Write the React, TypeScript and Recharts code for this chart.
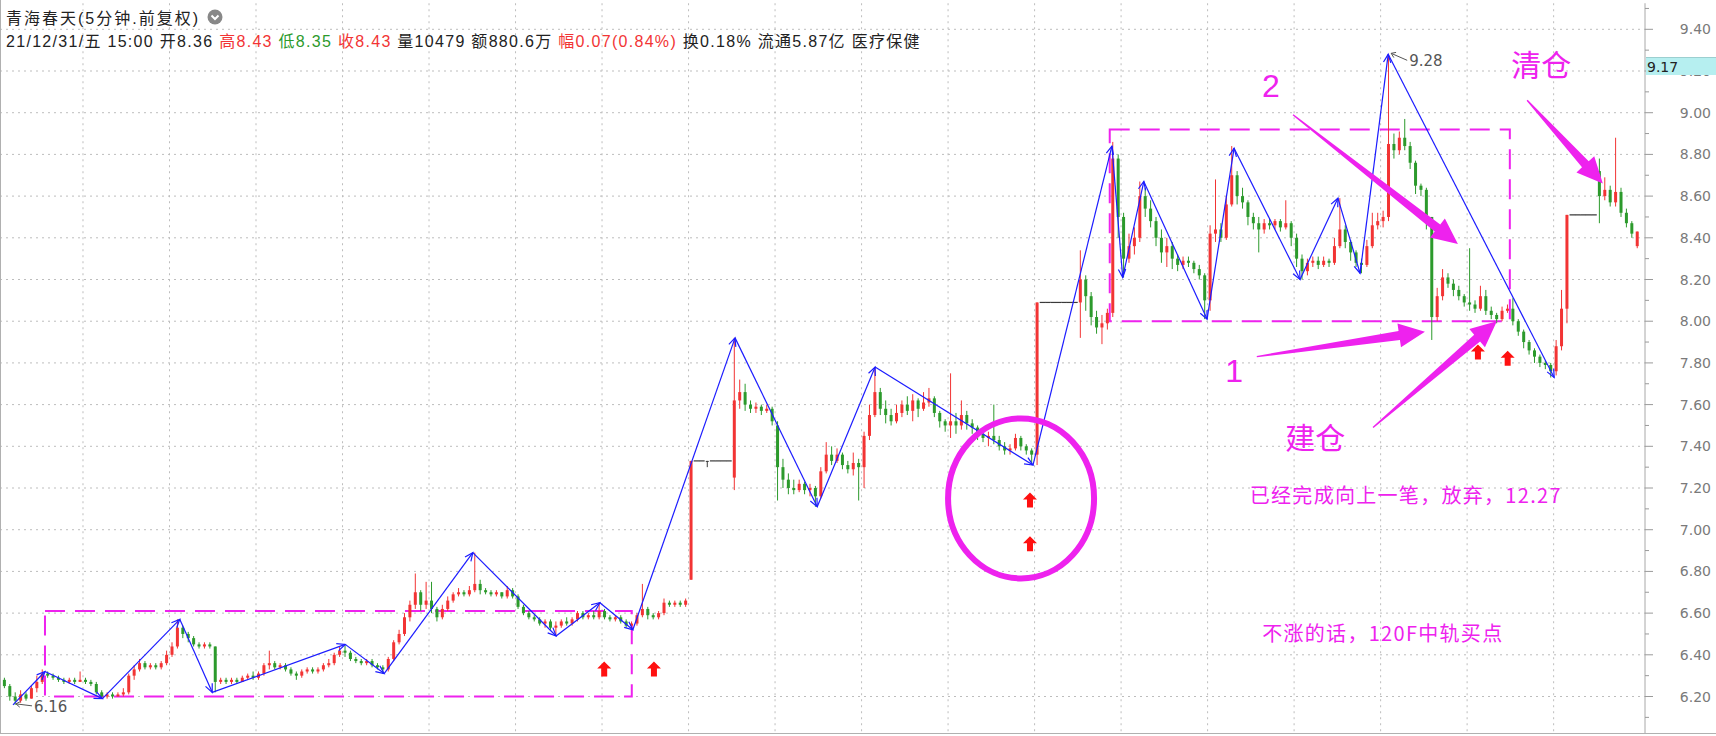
import React from "react";
import {
  Bar,
  CartesianGrid,
  ComposedChart,
  ReferenceArea,
  ReferenceDot,
  ReferenceLine,
  XAxis,
  YAxis,
} from "recharts";

// one candle = [open, close, high, low], 16 bars per session
type Candle = [number, number, number, number];

const dec07: Candle[] = [
  [6.27, 6.28, 6.3, 6.26], [6.28, 6.25, 6.29, 6.24], [6.25, 6.2, 6.26, 6.18], [6.2, 6.18, 6.22, 6.16],
  [6.18, 6.21, 6.23, 6.17], [6.21, 6.19, 6.22, 6.18], [6.19, 6.24, 6.25, 6.19], [6.24, 6.27, 6.3, 6.22],
  [6.27, 6.31, 6.33, 6.26], [6.31, 6.3, 6.32, 6.29], [6.3, 6.29, 6.31, 6.28], [6.29, 6.28, 6.3, 6.27],
  [6.28, 6.27, 6.29, 6.26], [6.27, 6.28, 6.29, 6.26], [6.28, 6.27, 6.29, 6.26], [6.27, 6.28, 6.32, 6.27],
];
const dec08: Candle[] = [
  [6.28, 6.27, 6.29, 6.26], [6.27, 6.26, 6.28, 6.25], [6.26, 6.22, 6.27, 6.21], [6.22, 6.2, 6.23, 6.19],
  [6.2, 6.21, 6.22, 6.19], [6.21, 6.2, 6.22, 6.19], [6.2, 6.21, 6.22, 6.2], [6.21, 6.22, 6.24, 6.2],
  [6.22, 6.3, 6.31, 6.21], [6.3, 6.33, 6.35, 6.28], [6.33, 6.36, 6.38, 6.32], [6.36, 6.34, 6.37, 6.33],
  [6.34, 6.35, 6.36, 6.33], [6.35, 6.34, 6.36, 6.33], [6.34, 6.36, 6.37, 6.33], [6.36, 6.4, 6.42, 6.35],
];
const dec09: Candle[] = [
  [6.4, 6.44, 6.46, 6.39], [6.44, 6.53, 6.57, 6.43], [6.53, 6.5, 6.54, 6.48], [6.5, 6.48, 6.51, 6.46],
  [6.48, 6.45, 6.49, 6.44], [6.45, 6.44, 6.46, 6.43], [6.44, 6.45, 6.46, 6.43], [6.45, 6.44, 6.46, 6.43],
  [6.44, 6.27, 6.44, 6.22], [6.27, 6.28, 6.29, 6.26], [6.28, 6.27, 6.29, 6.26], [6.27, 6.28, 6.29, 6.26],
  [6.28, 6.27, 6.29, 6.26], [6.27, 6.29, 6.3, 6.27], [6.29, 6.3, 6.31, 6.28], [6.3, 6.29, 6.32, 6.28],
];
const dec10: Candle[] = [
  [6.29, 6.31, 6.32, 6.28], [6.31, 6.35, 6.36, 6.3], [6.35, 6.36, 6.42, 6.33], [6.36, 6.34, 6.37, 6.33],
  [6.34, 6.35, 6.36, 6.33], [6.35, 6.33, 6.36, 6.32], [6.33, 6.31, 6.34, 6.3], [6.31, 6.3, 6.32, 6.28],
  [6.3, 6.32, 6.33, 6.29], [6.32, 6.33, 6.34, 6.31], [6.33, 6.32, 6.34, 6.31], [6.32, 6.33, 6.34, 6.31],
  [6.33, 6.35, 6.36, 6.32], [6.35, 6.36, 6.38, 6.34], [6.36, 6.4, 6.41, 6.35], [6.4, 6.42, 6.44, 6.39],
];
const dec13: Candle[] = [
  [6.42, 6.41, 6.45, 6.39], [6.41, 6.38, 6.42, 6.37], [6.38, 6.37, 6.39, 6.36], [6.37, 6.36, 6.38, 6.35],
  [6.36, 6.37, 6.38, 6.35], [6.37, 6.35, 6.38, 6.34], [6.35, 6.34, 6.36, 6.33], [6.34, 6.33, 6.35, 6.31],
  [6.33, 6.38, 6.39, 6.32], [6.38, 6.46, 6.47, 6.37], [6.46, 6.5, 6.52, 6.45], [6.5, 6.58, 6.6, 6.49],
  [6.58, 6.64, 6.66, 6.56], [6.64, 6.7, 6.79, 6.62], [6.7, 6.64, 6.71, 6.61], [6.64, 6.66, 6.75, 6.62],
];
const dec14: Candle[] = [
  [6.66, 6.62, 6.75, 6.6], [6.62, 6.58, 6.63, 6.56], [6.58, 6.62, 6.64, 6.57], [6.62, 6.66, 6.68, 6.61],
  [6.66, 6.69, 6.7, 6.65], [6.69, 6.7, 6.72, 6.68], [6.7, 6.69, 6.71, 6.68], [6.69, 6.71, 6.73, 6.68],
  [6.71, 6.74, 6.89, 6.7], [6.74, 6.71, 6.76, 6.69], [6.71, 6.7, 6.72, 6.69], [6.7, 6.69, 6.71, 6.68],
  [6.69, 6.7, 6.71, 6.68], [6.7, 6.68, 6.7, 6.67], [6.68, 6.71, 6.73, 6.67], [6.71, 6.68, 6.72, 6.67],
];
const dec15: Candle[] = [
  [6.68, 6.63, 6.69, 6.62], [6.63, 6.6, 6.64, 6.59], [6.6, 6.58, 6.61, 6.57], [6.58, 6.57, 6.59, 6.56],
  [6.57, 6.55, 6.58, 6.54], [6.55, 6.56, 6.57, 6.53], [6.56, 6.53, 6.57, 6.52], [6.53, 6.54, 6.56, 6.49],
  [6.54, 6.56, 6.57, 6.53], [6.56, 6.55, 6.58, 6.54], [6.55, 6.57, 6.58, 6.54], [6.57, 6.6, 6.61, 6.56],
  [6.6, 6.58, 6.61, 6.57], [6.58, 6.59, 6.6, 6.57], [6.59, 6.58, 6.61, 6.57], [6.58, 6.61, 6.65, 6.57],
];
const dec16: Candle[] = [
  [6.61, 6.58, 6.62, 6.57], [6.58, 6.57, 6.59, 6.56], [6.57, 6.58, 6.59, 6.56], [6.58, 6.56, 6.59, 6.55],
  [6.56, 6.54, 6.57, 6.53], [6.54, 6.55, 6.56, 6.52], [6.55, 6.59, 6.6, 6.54], [6.59, 6.62, 6.74, 6.58],
  [6.62, 6.59, 6.63, 6.57], [6.59, 6.58, 6.6, 6.57], [6.58, 6.6, 6.61, 6.57], [6.6, 6.65, 6.67, 6.59],
  [6.65, 6.64, 6.66, 6.63], [6.64, 6.65, 6.66, 6.63], [6.65, 6.64, 6.66, 6.63], [6.64, 6.66, 6.67, 6.63],
];
const dec17: Candle[] = [
  [6.76, 7.33, 7.33, 6.76], [7.33, 7.33, 7.33, 7.33], [7.33, 7.33, 7.33, 7.33], [7.33, 7.33, 7.33, 7.3],
  [7.33, 7.33, 7.33, 7.33], [7.33, 7.33, 7.33, 7.33], [7.33, 7.33, 7.33, 7.33], [7.33, 7.33, 7.33, 7.33],
  [7.25, 7.62, 7.92, 7.19], [7.62, 7.66, 7.72, 7.58], [7.66, 7.6, 7.7, 7.57], [7.6, 7.58, 7.62, 7.56],
  [7.58, 7.59, 7.61, 7.56], [7.59, 7.57, 7.6, 7.55], [7.57, 7.58, 7.6, 7.56], [7.58, 7.52, 7.59, 7.5],
];
const dec20: Candle[] = [
  [7.5, 7.3, 7.52, 7.14], [7.3, 7.24, 7.34, 7.2], [7.24, 7.2, 7.27, 7.17], [7.2, 7.19, 7.24, 7.17],
  [7.19, 7.22, 7.24, 7.18], [7.22, 7.19, 7.23, 7.17], [7.19, 7.2, 7.22, 7.16], [7.2, 7.16, 7.21, 7.11],
  [7.16, 7.28, 7.3, 7.15], [7.28, 7.36, 7.42, 7.27], [7.36, 7.33, 7.4, 7.31], [7.33, 7.36, 7.39, 7.32],
  [7.36, 7.31, 7.37, 7.29], [7.31, 7.29, 7.33, 7.27], [7.29, 7.32, 7.37, 7.26], [7.32, 7.3, 7.34, 7.14],
];
const dec21: Candle[] = [
  [7.3, 7.45, 7.47, 7.2], [7.45, 7.55, 7.6, 7.43], [7.55, 7.66, 7.78, 7.54], [7.66, 7.58, 7.68, 7.55],
  [7.58, 7.55, 7.62, 7.51], [7.55, 7.52, 7.58, 7.5], [7.52, 7.56, 7.6, 7.51], [7.56, 7.6, 7.62, 7.54],
  [7.6, 7.57, 7.64, 7.55], [7.57, 7.62, 7.65, 7.52], [7.62, 7.58, 7.63, 7.54], [7.58, 7.61, 7.66, 7.57],
  [7.61, 7.63, 7.68, 7.59], [7.63, 7.56, 7.64, 7.54], [7.56, 7.52, 7.57, 7.49], [7.52, 7.5, 7.53, 7.47],
];
const dec22: Candle[] = [
  [7.5, 7.52, 7.75, 7.44], [7.52, 7.5, 7.56, 7.46], [7.5, 7.55, 7.62, 7.48], [7.55, 7.51, 7.57, 7.48],
  [7.51, 7.49, 7.53, 7.46], [7.49, 7.46, 7.5, 7.43], [7.46, 7.44, 7.48, 7.42], [7.44, 7.45, 7.47, 7.4],
  [7.45, 7.43, 7.6, 7.41], [7.43, 7.4, 7.45, 7.38], [7.4, 7.38, 7.42, 7.36], [7.38, 7.39, 7.41, 7.36],
  [7.39, 7.44, 7.46, 7.38], [7.44, 7.4, 7.45, 7.38], [7.4, 7.38, 7.41, 7.36], [7.38, 7.36, 7.39, 7.31],
];
const dec23: Candle[] = [
  [7.36, 8.09, 8.09, 7.31], [8.09, 8.09, 8.09, 8.09], [8.09, 8.09, 8.09, 8.09], [8.09, 8.09, 8.09, 8.09],
  [8.09, 8.09, 8.09, 8.09], [8.09, 8.09, 8.09, 8.09], [8.09, 8.09, 8.09, 8.09], [8.09, 8.09, 8.09, 8.09],
  [8.09, 8.2, 8.34, 7.92], [8.2, 8.12, 8.22, 8.05], [8.12, 8.02, 8.14, 7.98], [8.02, 7.97, 8.05, 7.94],
  [7.97, 7.99, 8.03, 7.89], [7.99, 8.04, 8.06, 7.96], [8.04, 8.78, 8.86, 8.02], [8.78, 8.5, 8.8, 8.4],
];
const dec24: Candle[] = [
  [8.5, 8.3, 8.52, 8.21], [8.3, 8.36, 8.42, 8.28], [8.36, 8.4, 8.45, 8.32], [8.4, 8.6, 8.67, 8.38],
  [8.6, 8.54, 8.64, 8.5], [8.54, 8.48, 8.58, 8.45], [8.48, 8.4, 8.5, 8.36], [8.4, 8.33, 8.44, 8.28],
  [8.33, 8.36, 8.4, 8.26], [8.36, 8.3, 8.38, 8.25], [8.3, 8.27, 8.32, 8.24], [8.27, 8.29, 8.31, 8.25],
  [8.29, 8.28, 8.31, 8.26], [8.28, 8.25, 8.29, 8.23], [8.25, 8.22, 8.27, 8.2], [8.22, 8.1, 8.23, 8.01],
];
const dec27: Candle[] = [
  [8.1, 8.42, 8.46, 8.05], [8.42, 8.44, 8.68, 8.38], [8.44, 8.4, 8.47, 8.38], [8.4, 8.56, 8.6, 8.39],
  [8.56, 8.7, 8.84, 8.55], [8.7, 8.6, 8.72, 8.56], [8.6, 8.57, 8.64, 8.54], [8.57, 8.5, 8.58, 8.46],
  [8.5, 8.47, 8.52, 8.44], [8.47, 8.44, 8.5, 8.33], [8.44, 8.47, 8.49, 8.42], [8.47, 8.46, 8.49, 8.44],
  [8.46, 8.48, 8.49, 8.44], [8.48, 8.45, 8.49, 8.43], [8.45, 8.47, 8.58, 8.44], [8.47, 8.4, 8.48, 8.36],
];
const dec28: Candle[] = [
  [8.4, 8.3, 8.42, 8.26], [8.3, 8.24, 8.32, 8.2], [8.24, 8.28, 8.3, 8.22], [8.28, 8.29, 8.31, 8.26],
  [8.29, 8.27, 8.31, 8.25], [8.27, 8.29, 8.31, 8.26], [8.29, 8.28, 8.3, 8.26], [8.28, 8.36, 8.4, 8.27],
  [8.36, 8.44, 8.59, 8.35], [8.44, 8.38, 8.46, 8.35], [8.38, 8.33, 8.39, 8.29], [8.33, 8.28, 8.34, 8.26],
  [8.28, 8.27, 8.3, 8.23], [8.27, 8.36, 8.39, 8.26], [8.36, 8.46, 8.52, 8.35], [8.46, 8.48, 8.52, 8.44],
];
const dec29: Candle[] = [
  [8.48, 8.5, 8.53, 8.45], [8.5, 8.85, 9.28, 8.48], [8.85, 8.82, 8.9, 8.78], [8.82, 8.88, 8.91, 8.8],
  [8.88, 8.84, 8.97, 8.82], [8.84, 8.76, 8.86, 8.73], [8.76, 8.65, 8.77, 8.61], [8.65, 8.63, 8.66, 8.6],
  [8.63, 8.5, 8.64, 8.44], [8.5, 8.02, 8.5, 7.91], [8.02, 8.12, 8.16, 8.0], [8.12, 8.21, 8.25, 8.1],
  [8.21, 8.18, 8.23, 8.16], [8.18, 8.15, 8.2, 8.12], [8.15, 8.12, 8.17, 8.1], [8.12, 8.09, 8.13, 8.07],
];
const dec30: Candle[] = [
  [8.09, 8.08, 8.35, 8.05], [8.08, 8.06, 8.1, 8.04], [8.06, 8.12, 8.17, 8.05], [8.12, 8.05, 8.15, 8.03],
  [8.05, 8.03, 8.07, 8.01], [8.03, 8.01, 8.04, 7.99], [8.01, 8.05, 8.07, 8.0], [8.05, 8.06, 8.08, 8.04],
  [8.06, 8.0, 8.11, 7.98], [8.0, 7.95, 8.01, 7.93], [7.95, 7.9, 7.96, 7.87], [7.9, 7.86, 7.91, 7.84],
  [7.86, 7.83, 7.87, 7.8], [7.83, 7.8, 7.84, 7.78], [7.8, 7.79, 7.81, 7.77], [7.79, 7.76, 7.8, 7.73],
];
const dec31: Candle[] = [
  [7.76, 7.88, 7.91, 7.74], [7.88, 8.06, 8.15, 7.86], [8.06, 8.51, 8.51, 7.99], [8.51, 8.51, 8.51, 8.51],
  [8.51, 8.51, 8.51, 8.51], [8.51, 8.51, 8.51, 8.51], [8.51, 8.51, 8.51, 8.51], [8.51, 8.51, 8.51, 8.51],
  [8.72, 8.6, 8.78, 8.47], [8.6, 8.63, 8.69, 8.58], [8.63, 8.57, 8.65, 8.55], [8.57, 8.62, 8.88, 8.55],
  [8.62, 8.52, 8.64, 8.5], [8.52, 8.47, 8.54, 8.45], [8.47, 8.42, 8.48, 8.4], [8.36, 8.43, 8.43, 8.35],
];

const sessions = [
  dec07, dec08, dec09, dec10, dec13, dec14, dec15, dec16, dec17, dec20,
  dec21, dec22, dec23, dec24, dec27, dec28, dec29, dec30, dec31,
];

// price axis
const priceLabels = [6.2, 6.4, 6.6, 6.8, 7.0, 7.2, 7.4, 7.6, 7.8, 8.0, 8.2, 8.4, 8.6, 8.8, 9.0, 9.2, 9.4];
const priceTicks = [
  6.1, 6.2, 6.3, 6.4, 6.5, 6.6, 6.7, 6.8, 6.9, 7.0, 7.1, 7.2, 7.3, 7.4, 7.5, 7.6, 7.7, 7.8,
  7.9, 8.0, 8.1, 8.2, 8.3, 8.4, 8.5, 8.6, 8.7, 8.8, 8.9, 9.0, 9.1, 9.2, 9.3, 9.4, 9.5,
];

// 笔 (blue zigzag) vertices: bar position, price
const strokeAt = [3.05, 8.97, 19.6, 33.9, 39.9, 64.5, 71.7, 88.1, 103.5, 111.6, 117.7, 136.6, 151.8, 162.5, 191.7, 206.3, 208.3, 212.2, 223.9, 228.9, 241.1, 248.1, 252.2, 257.4, 288.1];
const strokePrice = [6.16, 6.32, 6.19, 6.57, 6.22, 6.45, 6.31, 6.89, 6.49, 6.65, 6.52, 7.92, 7.11, 7.78, 7.31, 8.84, 8.21, 8.67, 8.01, 8.83, 8.2, 8.59, 8.23, 9.28, 7.73];

// 中枢 boxes
const hubFrom = [8.97, 205.9];
const hubTo = [117.5, 279.9];
const hubLow = [6.2, 8.0];
const hubHigh = [6.61, 8.92];

// magenta pointers: tail -> tip
const pointerFromAt = [283.1, 239.8, 233.1, 254.6];
const pointerFromPrice = [9.06, 8.99, 7.83, 7.49];
const pointerToAt = [297.1, 270.3, 264.2, 277.5];
const pointerToPrice = [8.66, 8.37, 7.95, 8.0];

// notes
const bigNotes = ["清仓", "2", "1", "建仓"];
const bigNoteAt = [285.7, 235.7, 228.9, 243.9];
const bigNotePrice = [9.23, 9.13, 7.76, 7.44];
const smallNotes = ["已经完成向上一笔，放弃，12.27", "不涨的话，120F中轨买点"];
const smallNoteAt = [231.8, 234.1];
const smallNotePrice = [7.16, 6.5];

// red buy marks
const buyAt = [112.4, 121.6, 191.15, 191.15, 274.0, 279.5];
const buyPrice = [6.33, 6.33, 7.14, 6.93, 7.85, 7.82];

const BARS_PER_DAY = 16;
const RED = "#f23434";
const GREEN = "#2c9a2c";
const DOJI = "#3a3a3a";
const BLUE = "#1c1cff";
const MAGENTA = "#ee22ee";

const candles = sessions.flatMap((day, d) =>
  day.map(([o, c, h, l], j) => ({ t: d * BARS_PER_DAY + j + 0.5, o, c, h, l, span: [l, h] }))
);
const dayStarts = sessions.slice(1).map((_, d) => (d + 1) * BARS_PER_DAY);

const CandleShape = (props: any) => {
  const { x, y, width, height, payload } = props;
  const { o, c, h, l } = payload;
  const cx = x + width / 2;
  if (h === l) {
    return <line x1={x - 1.3} x2={x + width + 1.3} y1={y} y2={y} stroke={DOJI} strokeWidth={1.2} />;
  }
  const k = height / (h - l);
  const yOf = (v: number) => y + (h - v) * k;
  const color = c > o ? RED : c < o ? GREEN : DOJI;
  const top = yOf(Math.max(o, c));
  const bot = yOf(Math.min(o, c));
  return (
    <g>
      <line x1={cx} x2={cx} y1={y} y2={y + height} stroke={color} strokeWidth={1} />
      <rect x={x} y={top} width={width} height={Math.max(bot - top, 1)} fill={color} />
    </g>
  );
};

const PriceTick = ({ x, y, payload }: any) => {
  const v: number = payload.value;
  const major = Math.round(v * 10) % 2 === 0;
  return (
    <g>
      <line x1={x} x2={x + (major ? 8 : 4)} y1={y} y2={y} stroke="#9a9a9a" />
      {major && (
        <text x={x + 66} y={y} dy={5} textAnchor="end" fontSize={14} fill="#7a7a7a" fontFamily="'DejaVu Sans', sans-serif">
          {v.toFixed(2)}
        </text>
      )}
    </g>
  );
};

const StrokeSeg = ({ x1, y1, x2, y2 }: any) => {
  const a = Math.atan2(y2 - y1, x2 - x1);
  const len = 9;
  const w = 0.42;
  const p1 = `${x2 - len * Math.cos(a - w)},${y2 - len * Math.sin(a - w)}`;
  const p2 = `${x2 - len * Math.cos(a + w)},${y2 - len * Math.sin(a + w)}`;
  return (
    <g>
      <line x1={x1} y1={y1} x2={x2} y2={y2} stroke={BLUE} strokeWidth={1.2} />
      <polyline points={`${p1} ${x2},${y2} ${p2}`} fill="none" stroke={BLUE} strokeWidth={1.2} />
    </g>
  );
};

const Pointer = ({ x1, y1, x2, y2 }: any) => {
  const len = Math.hypot(x2 - x1, y2 - y1);
  const ux = (x2 - x1) / len;
  const uy = (y2 - y1) / len;
  const nx = -uy;
  const ny = ux;
  const head = 26;
  const wing = 12;
  const neck = 4.5;
  const tail = 0.7;
  const bx = x2 - ux * head;
  const by = y2 - uy * head;
  const pts = [
    [x1 + nx * tail, y1 + ny * tail],
    [bx + nx * neck, by + ny * neck],
    [bx + nx * wing, by + ny * wing],
    [x2, y2],
    [bx - nx * wing, by - ny * wing],
    [bx - nx * neck, by - ny * neck],
    [x1 - nx * tail, y1 - ny * tail],
  ];
  return <polygon points={pts.map((p) => p.join(",")).join(" ")} fill={MAGENTA} />;
};

const BuyMark = ({ cx, cy }: any) => (
  <polygon
    points={`${cx},${cy - 8} ${cx + 7},${cy - 1} ${cx + 3},${cy - 1} ${cx + 3},${cy + 7} ${cx - 3},${cy + 7} ${cx - 3},${cy - 1} ${cx - 7},${cy - 1}`}
    fill="#ff1010"
  />
);

const ExtremeLabel = ({ cx, cy, text, below }: any) => {
  const ty = below ? cy + 2 : cy + 7;
  const sx = cx + 19;
  const sy = below ? cy + 1 : cy + 6;
  const ex = cx + 3;
  const ey = cy - 1;
  const a = Math.atan2(ey - sy, ex - sx);
  return (
    <g>
      <line x1={sx} y1={sy} x2={ex} y2={ey} stroke="#555" strokeWidth={1} />
      <polyline
        points={`${ex - 5 * Math.cos(a - 0.6)},${ey - 5 * Math.sin(a - 0.6)} ${ex},${ey} ${ex - 5 * Math.cos(a + 0.6)},${ey - 5 * Math.sin(a + 0.6)}`}
        fill="none"
        stroke="#555"
      />
      <text x={cx + 21} y={ty} dy={5} fontSize={15} fill="#555" fontFamily="'DejaVu Sans', sans-serif">
        {text}
      </text>
    </g>
  );
};

const headerFont = "'Liberation Sans', 'Noto Sans CJK SC', sans-serif";

const App = () => {
  const last = strokeAt.length - 1;
  return (
    <div style={{ position: "absolute", left: 0, top: 0, width: 1716, height: 736, background: "#fff" }}>
      <ComposedChart width={1716} height={736} data={candles} margin={{ top: 3.24, right: 0, bottom: 3, left: 0 }}>
        <CartesianGrid
          stroke="#bdbdbd"
          strokeDasharray="2 4"
          horizontalValues={priceLabels}
          verticalValues={dayStarts}
        />
        <XAxis type="number" dataKey="t" domain={[0.65, 304.9]} hide allowDataOverflow />
        <YAxis
          orientation="right"
          width={71}
          domain={[6.025, 9.525]}
          ticks={priceTicks}
          interval={0}
          allowDataOverflow
          axisLine={{ stroke: "#a8a8a8" }}
          tickLine={false}
          tickSize={0}
          tickMargin={0}
          tick={(p: any) => <PriceTick {...p} />}
        />
        <Bar dataKey="span" barSize={3} isAnimationActive={false} shape={(p: any) => <CandleShape {...p} />} />

        {hubFrom.map((x1, i) => (
          <ReferenceArea
            key={`hub${i}`}
            x1={x1}
            x2={hubTo[i]}
            y1={hubLow[i]}
            y2={hubHigh[i]}
            fill="none"
            fillOpacity={0}
            stroke={MAGENTA}
            strokeWidth={2}
            strokeDasharray="20 10"
            ifOverflow="visible"
          />
        ))}

        {strokeAt.slice(1).map((t, i) => (
          <ReferenceLine
            key={`bi${i}`}
            segment={[
              { x: strokeAt[i], y: strokePrice[i] },
              { x: t, y: strokePrice[i + 1] },
            ]}
            ifOverflow="visible"
            shape={(p: any) => <StrokeSeg {...p} />}
          />
        ))}

        <ReferenceDot
          x={strokeAt[0]}
          y={strokePrice[0]}
          ifOverflow="visible"
          shape={(p: any) => <ExtremeLabel {...p} text={strokePrice[0].toFixed(2)} below />}
        />
        <ReferenceDot
          x={strokeAt[last - 1]}
          y={strokePrice[last - 1]}
          ifOverflow="visible"
          shape={(p: any) => <ExtremeLabel {...p} text={strokePrice[last - 1].toFixed(2)} />}
        />

        {pointerFromAt.map((x, i) => (
          <ReferenceLine
            key={`ptr${i}`}
            segment={[
              { x, y: pointerFromPrice[i] },
              { x: pointerToAt[i], y: pointerToPrice[i] },
            ]}
            ifOverflow="visible"
            shape={(p: any) => <Pointer {...p} />}
          />
        ))}

        <ReferenceDot
          x={189.5}
          y={7.15}
          ifOverflow="visible"
          shape={({ cx, cy }: any) => (
            <ellipse cx={cx} cy={cy} rx={73} ry={80} fill="none" stroke={MAGENTA} strokeWidth={6} />
          )}
        />

        {buyAt.map((x, i) => (
          <ReferenceDot key={`buy${i}`} x={x} y={buyPrice[i]} ifOverflow="visible" shape={(p: any) => <BuyMark {...p} />} />
        ))}

        {bigNotes.map((txt, i) => (
          <ReferenceDot
            key={`bn${i}`}
            x={bigNoteAt[i]}
            y={bigNotePrice[i]}
            ifOverflow="visible"
            shape={({ cx, cy }: any) => (
              <text
                x={cx}
                y={cy}
                dy={11}
                textAnchor="middle"
                fontSize={i === 1 || i === 2 ? 32 : 30}
                fill={MAGENTA}
                fontFamily="'Liberation Sans', 'Noto Sans CJK SC', sans-serif"
              >
                {txt}
              </text>
            )}
          />
        ))}

        {smallNotes.map((txt, i) => (
          <ReferenceDot
            key={`sn${i}`}
            x={smallNoteAt[i]}
            y={smallNotePrice[i]}
            ifOverflow="visible"
            shape={({ cx, cy }: any) => (
              <text x={cx} y={cy} dy={7} fontSize={20} letterSpacing={1.3} fill={MAGENTA} fontFamily="'Noto Sans CJK SC', sans-serif">
                {txt}
              </text>
            )}
          />
        ))}
      </ComposedChart>

      {/* frame */}
      <div
        style={{
          position: "absolute",
          left: 0,
          top: 0,
          width: 1716,
          height: 734,
          boxSizing: "border-box",
          borderLeft: "1px solid #b0b0b0",
          borderBottom: "1px solid #b0b0b0",
          pointerEvents: "none",
        }}
      />

      {/* header */}
      <div
        style={{
          position: "absolute",
          left: 6,
          top: 5,
          lineHeight: "20px",
          font: `16px ${headerFont}`,
          letterSpacing: 2,
          color: "#222",
          whiteSpace: "nowrap",
          display: "flex",
          alignItems: "center",
        }}
      >
        <span>青海春天(5分钟.前复权)</span>
        <svg width={16} height={16} style={{ marginLeft: 7 }}>
          <circle cx={8} cy={8} r={7.5} fill="#888" />
          <polyline points="4.5,6.5 8,10 11.5,6.5" fill="none" stroke="#fff" strokeWidth={2} />
        </svg>
      </div>
      <div
        style={{
          position: "absolute",
          left: 6,
          top: 28,
          lineHeight: "20px",
          font: `16px ${headerFont}`,
          letterSpacing: 1.3,
          color: "#222",
          whiteSpace: "pre",
        }}
      >
        <span>21/12/31/五 15:00 开8.36 </span>
        <span style={{ color: RED }}>高8.43</span>
        <span> </span>
        <span style={{ color: GREEN }}>低8.35</span>
        <span> </span>
        <span style={{ color: RED }}>收8.43</span>
        <span> 量10479 额880.6万 </span>
        <span style={{ color: RED }}>幅0.07(0.84%)</span>
        <span> 换0.18% 流通5.87亿 医疗保健</span>
      </div>

      {/* price readout */}
      <div
        style={{
          position: "absolute",
          left: 1646,
          top: 57,
          width: 70,
          height: 18,
          background: "#b6eff0",
          borderTop: "1px solid #9ccfd0",
          font: "14px 'DejaVu Sans', sans-serif",
          lineHeight: "18px",
          color: "#222",
          paddingLeft: 1,
          boxSizing: "border-box",
        }}
      >
        9.17
      </div>
    </div>
  );
};

export default App;
